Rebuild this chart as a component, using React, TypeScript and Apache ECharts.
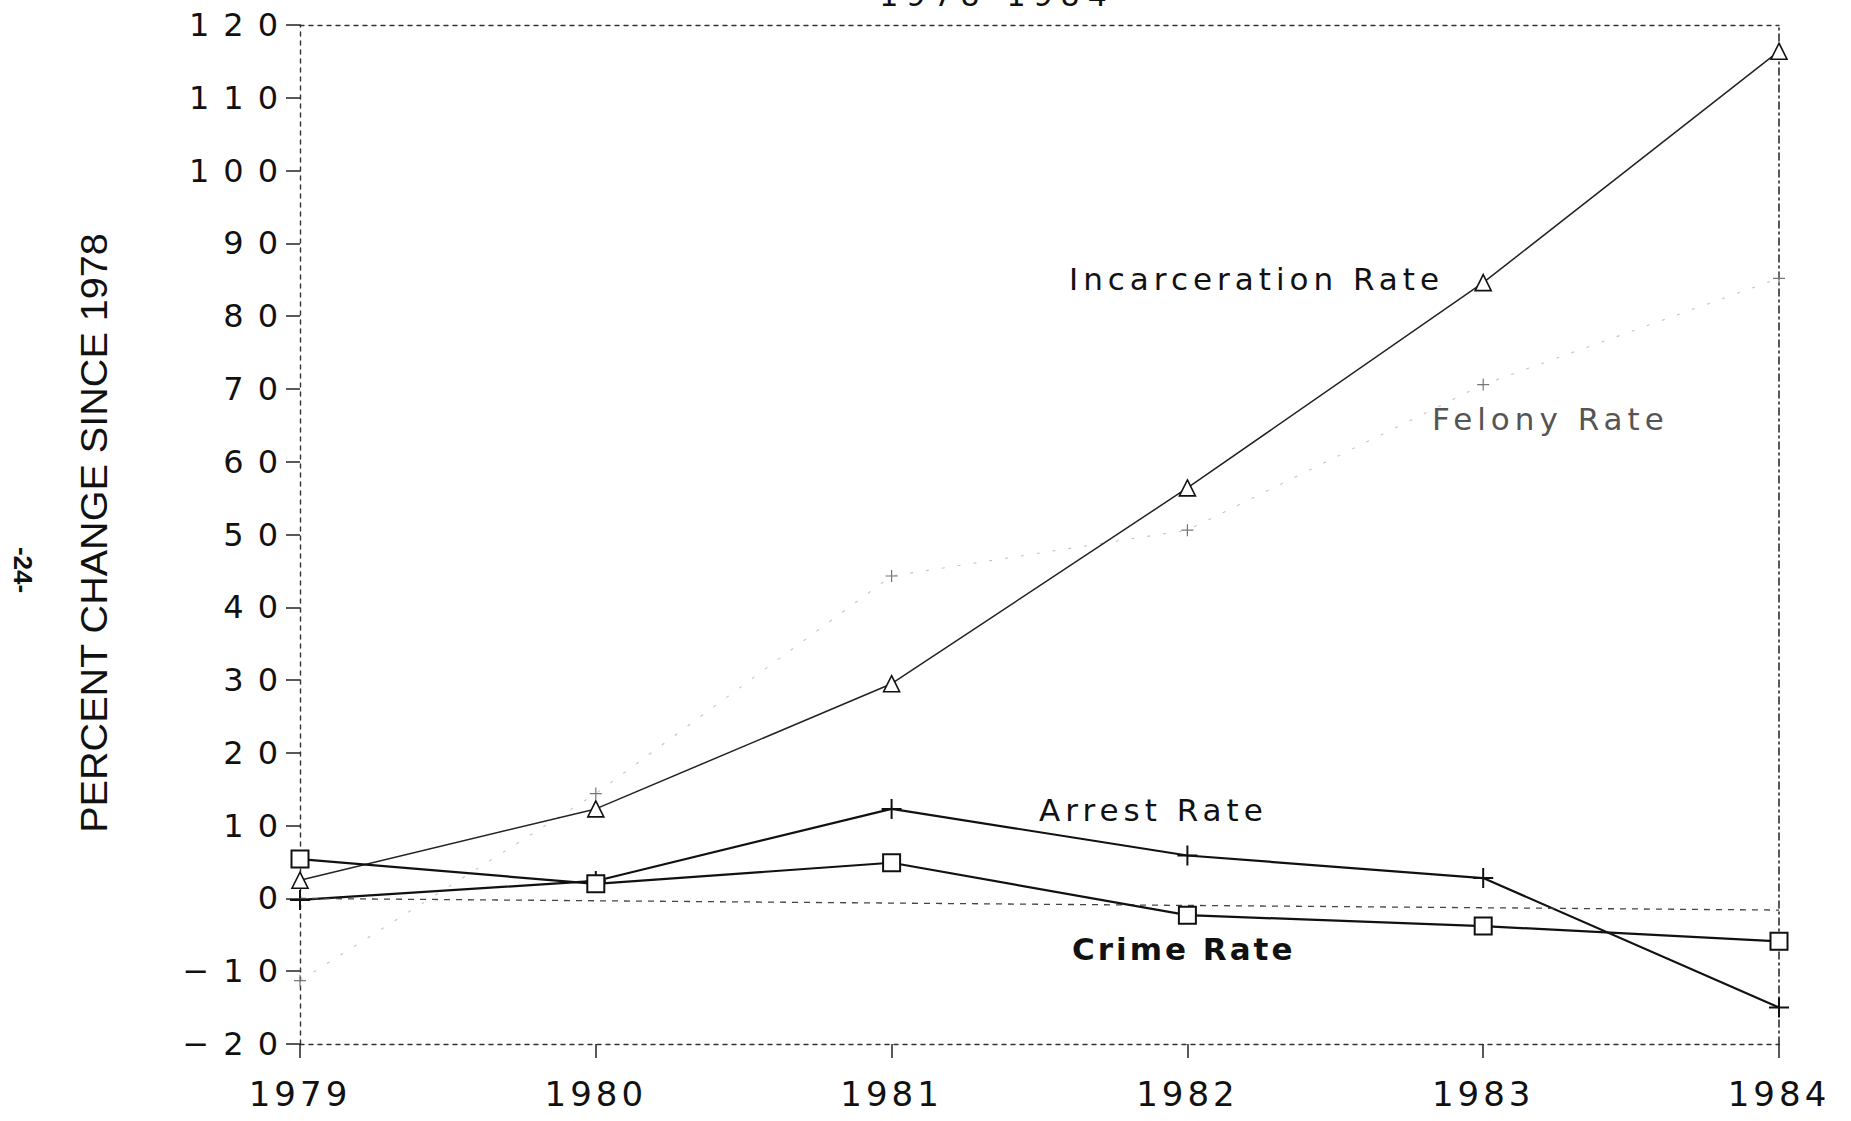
import React, { useEffect, useRef } from "react";
import * as echarts from "echarts";

// ---- data ----
const years = ["1979", "1980", "1981", "1982", "1983", "1984"];
const incarcerationRate = [2.5, 12.3, 29.5, 56.4, 84.6, 116.4];
const felonyRate = [-11.3, 14.4, 44.3, 50.6, 70.6, 85.2];
const arrestRate = [-0.2, 2.4, 12.3, 5.9, 2.8, -15.0];
const crimeRate = [5.4, 2.0, 4.9, -2.3, -3.8, -5.9];
const zeroLine = [0, -1.6]; // dashed reference line (slightly skewed in the scan)
const yMin = -20;
const yMax = 120;
const yStep = 10;

const titleText = "1978-1984";
const yAxisTitle = "PERCENT CHANGE SINCE 1978";
const pageNumber = "-24-";
const seriesNames = ["Incarceration Rate", "Felony Rate", "Arrest Rate", "Crime Rate"];

const PLUS = "path://M9,0H11V9H20V11H11V20H9V11H0V9H9Z";

export default function App() {
  const ref = useRef<HTMLDivElement>(null);

  useEffect(() => {
    if (!ref.current) return;
    const chart = echarts.init(ref.current, undefined, { renderer: "svg" });

    const dashedAxis = { show: true, onZero: false, lineStyle: { color: "#333", width: 1.4, type: [4, 5] } };

    const label = (text: string, x: number, y: number, font: string, fill = "#111") => ({
      type: "text",
      x,
      y,
      style: {
        text,
        font,
        fill,
        textAlign: "left",
        align: "left",
        textVerticalAlign: "middle",
        verticalAlign: "middle",
      },
    });

    const option: any = {
      animation: false,
      backgroundColor: "#fff",
      grid: { left: 300, right: 72, top: 25, bottom: 77 },
      xAxis: [
        {
          type: "category",
          data: years,
          boundaryGap: false,
          position: "bottom",
          axisLine: dashedAxis,
          axisTick: { show: true, length: 14, alignWithLabel: true, lineStyle: { color: "#222", width: 1.5 } },
          axisLabel: {
            color: "#111",
            fontSize: 34,
            fontFamily: "'DejaVu Sans', Roboto",
            margin: 33,
            showMaxLabel: true,
            showMinLabel: true,
          },
          splitLine: { show: false },
        },
        {
          type: "category",
          data: years,
          boundaryGap: false,
          position: "top",
          axisLine: dashedAxis,
          axisTick: { show: false },
          axisLabel: { show: false },
          splitLine: { show: false },
        },
      ],
      yAxis: [
        {
          type: "value",
          min: yMin,
          max: yMax,
          interval: yStep,
          position: "left",
          axisLine: dashedAxis,
          axisTick: { show: true, length: 14, lineStyle: { color: "#222", width: 1.5 } },
          axisLabel: {
            color: "#111",
            fontSize: 32,
            fontFamily: "'DejaVu Sans', Lato",
            margin: 8,
            formatter: (v: number) => (v < 0 ? "\u2212" + Math.abs(v) : String(v)),
          },
          splitLine: { show: false },
        },
        {
          type: "value",
          min: yMin,
          max: yMax,
          interval: yStep,
          position: "right",
          axisLine: { show: true, lineStyle: { color: "#222", width: 1.5, type: [7, 4, 2, 4] } },
          axisTick: { show: false },
          axisLabel: { show: false },
          splitLine: { show: false },
        },
      ],
      series: [
        {
          name: seriesNames[1],
          type: "line",
          data: felonyRate,
          clip: false,
          symbol: PLUS,
          symbolSize: 12,
          itemStyle: { color: "#777" },
          lineStyle: { color: "#c4c4c4", width: 1.1, type: [3, 13] },
          z: 2,
        },
        {
          name: seriesNames[0],
          type: "line",
          data: incarcerationRate,
          clip: false,
          symbol: "triangle",
          symbolSize: 16,
          itemStyle: { color: "#fff", borderColor: "#111", borderWidth: 1.6 },
          lineStyle: { color: "#222", width: 1.5 },
          z: 3,
        },
        {
          name: seriesNames[2],
          type: "line",
          data: arrestRate,
          clip: false,
          symbol: PLUS,
          symbolSize: 20,
          itemStyle: { color: "#111" },
          lineStyle: { color: "#111", width: 2.2 },
          z: 4,
          markLine: {
            silent: true,
            symbol: "none",
            label: { show: false },
            lineStyle: { color: "#444", width: 1.3, type: [6, 6] },
            data: [[{ coord: [0, zeroLine[0]] }, { coord: [years.length - 1, zeroLine[1]] }]],
          },
        },
        {
          name: seriesNames[3],
          type: "line",
          data: crimeRate,
          clip: false,
          symbol: "rect",
          symbolSize: 17,
          itemStyle: { color: "#fff", borderColor: "#111", borderWidth: 2 },
          lineStyle: { color: "#111", width: 2.2 },
          z: 5,
        },
      ],
      graphic: [
        {
          type: "text",
          x: 997,
          y: 10,
          style: {
            text: titleText,
            font: "30px 'DejaVu Sans', 'Noto Sans'",
            fill: "#111",
            textAlign: "center",
            align: "center",
            textVerticalAlign: "bottom",
            verticalAlign: "bottom",
          },
        },
        {
          type: "text",
          x: 94,
          y: 533,
          rotation: Math.PI / 2,
          scaleX: 1.07,
          style: {
            text: yAxisTitle,
            font: "37px 'Liberation Sans'",
            fill: "#111",
            textAlign: "center",
            align: "center",
            textVerticalAlign: "middle",
            verticalAlign: "middle",
          },
        },
        {
          type: "text",
          x: 23,
          y: 570,
          rotation: -Math.PI / 2,
          style: {
            text: pageNumber,
            font: "bold 26px 'Liberation Sans'",
            fill: "#111",
            textAlign: "center",
            align: "center",
            textVerticalAlign: "middle",
            verticalAlign: "middle",
          },
        },
        label(seriesNames[0], 1069, 279, "31px 'DejaVu Sans', Inter"),
        label(seriesNames[1], 1432, 419, "31px 'DejaVu Sans', Inter", "#555"),
        label(seriesNames[2], 1039, 810, "31px 'DejaVu Sans', Inter"),
        label(seriesNames[3], 1072, 949, "bold 31px 'DejaVu Sans', Inter"),
      ],
    };

    chart.setOption(option);
    return () => chart.dispose();
  }, []);

  return (
    <>
      <style>{`
        #chart text[style*="Lato"] { letter-spacing: 14px; }
        #chart text[style*="Noto"] { letter-spacing: 8px; }
        #chart text[style*="Roboto"] { letter-spacing: 4px; }
        #chart text[style*="Inter"] { letter-spacing: 5px; }
        #chart text[style*="bold"][style*="Inter"] { letter-spacing: 3px; }
      `}</style>
      <div
        id="chart"
        ref={ref}
        style={{ position: "fixed", left: 0, top: 0, width: 1851, height: 1121, background: "#fff" }}
      />
    </>
  );
}
